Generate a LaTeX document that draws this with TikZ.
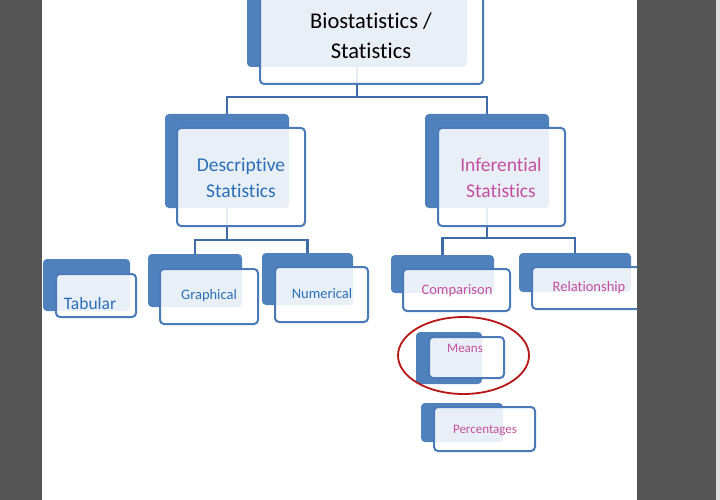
\documentclass[tikz,border=0pt]{standalone}
\usepackage{fontspec}
\setmainfont{Carlito}[Ligatures=NoCommon]
\usetikzlibrary{fit,shapes.geometric}
\definecolor{bk}{HTML}{4F81BD}
\definecolor{fr}{HTML}{4A7AB8}
\definecolor{ln}{HTML}{3F6CA6}
\definecolor{bt}{HTML}{2A70B8}
\definecolor{mg}{HTML}{C54FA0}
\definecolor{pn}{HTML}{555555}
\definecolor{rg}{HTML}{B81515}
\begin{document}
\begin{tikzpicture}[x=1pt,y=-1pt,
  backbox/.style={rectangle, fill=bk, rounded corners=4pt, inner sep=0pt},
  frontbox/.style={rectangle, draw=fr, line width=2pt, fill=white, fill opacity=0.88, rounded corners=4pt, inner sep=0pt},
  conn/.style={draw=ln, line width=2.8pt},
  lbl/.style={align=center, inner sep=0pt},
  ]
\useasboundingbox (0,0) rectangle (720,500);
\clip (0,0) rectangle (720,500);
\fill[white] (0,0) rectangle (720,500);

% back boxes
\node[backbox, fit={(247,-20) (467,67)}] (top-b) {};
\node[backbox, fit={(165,114) (289,208)}] (desc-b) {};
\node[backbox, fit={(425,114) (549,208)}] (inf-b) {};
\node[backbox, fit={(43,259) (130,311)}] (tab-b) {};
\node[backbox, fit={(148,254) (242,307)}] (gra-b) {};
\node[backbox, fit={(262,253) (353,305)}] (num-b) {};
\node[backbox, fit={(391,255) (494,293)}] (com-b) {};
\node[backbox, fit={(519,253) (631,292)}] (rel-b) {};
\node[backbox, fit={(416,332) (482,384)}] (mea-b) {};
\node[backbox, fit={(421,403) (503,442)}] (per-b) {};

% connectors
\coordinate (y1) at (0,97);
\coordinate (y2) at (0,240);
\coordinate (y3) at (0,238);
\draw[conn] (top-b.south) -- (top-b.south |- y1) -| (desc-b.north);
\draw[conn] (top-b.south |- y1) -| (inf-b.north);
\draw[conn] (desc-b.south) -- (desc-b.south |- y2) -| (gra-b.north);
\draw[conn] (desc-b.south |- y2) -| (num-b.north);
\draw[conn] (inf-b.south) -- (inf-b.south |- y3) -| (com-b.north);
\draw[conn] (inf-b.south |- y3) -| (rel-b.north);

% front boxes
\node[frontbox, fit={(260,-10) (483,84)}] (top-f) {};
\node[frontbox, fit={(177,128) (305,226)}] (desc-f) {};
\node[frontbox, fit={(438,128) (565,226)}] (inf-f) {};
\node[frontbox, fit={(56,274) (136,317)}] (tab-f) {};
\node[frontbox, fit={(160,269) (258,324)}] (gra-f) {};
\node[frontbox, fit={(275,267) (368,322)}] (num-f) {};
\node[frontbox, fit={(403,269) (510,311)}] (com-f) {};
\node[frontbox, fit={(532,267) (648,309)}] (rel-f) {};
\node[frontbox, fit={(429,337) (504,378)}] (mea-f) {};
\node[frontbox, fit={(434,407) (535,451)}] (per-f) {};

% labels
\node[lbl, font=\fontsize{22.5}{30}\selectfont, text=black] (top-t) at (371,36) {Biostatistics /\\Statistics};
\node[lbl, font=\fontsize{19.5}{26}\selectfont, text=bt] (desc-t) at (241,178) {Descriptive\\Statistics};
\node[lbl, font=\fontsize{19.5}{26}\selectfont, text=mg] (inf-t) at (501,178) {Inferential\\Statistics};
\node[lbl, font=\fontsize{17.5}{20}\selectfont, text=bt] (tab-t) at (90,303) {Tabular};
\node[lbl, font=\fontsize{14.5}{17}\selectfont, text=bt] (gra-t) at (209,296) {Graphical};
\node[lbl, font=\fontsize{14.5}{17}\selectfont, text=bt] (num-t) at (322,294) {Numerical};
\node[lbl, font=\fontsize{14.5}{17}\selectfont, text=mg] (com-t) at (457,291) {Comparison};
\node[lbl, font=\fontsize{14.5}{17}\selectfont, text=mg] (rel-t) at (589,288) {Relationship};
\node[lbl, font=\fontsize{13}{15}\selectfont, text=mg] (mea-t) at (465,348) {Means};
\node[lbl, font=\fontsize{13}{15}\selectfont, text=mg] (per-t) at (485,430) {Percentages};

% highlight ring
\node[draw=rg, line width=1.8pt, ellipse, minimum width=131pt, minimum height=77pt, inner sep=0pt] (ring) at (463.5,355.5) {};

% side panels
\fill[pn] (0,0) rectangle (41.5,500);
\fill[pn] (637,0) rectangle (716,500);
\fill[gray!25] (716,0) rectangle (720,500);
\end{tikzpicture}
\end{document}
